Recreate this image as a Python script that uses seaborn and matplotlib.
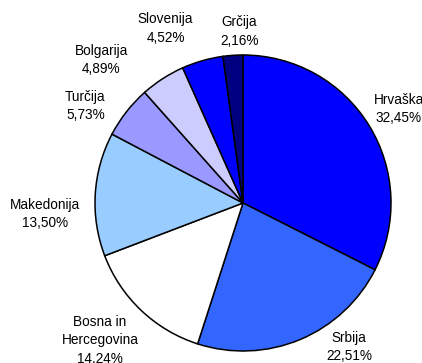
import numpy as np
import matplotlib
matplotlib.use("Agg")
import matplotlib.pyplot as plt
import seaborn as sns

# podatki
drzave = ['Hrvaška', 'Srbija', 'Bosna in\nHercegovina', 'Makedonija',
          'Turčija', 'Bolgarija', 'Slovenija', 'Grčija']
delezi = [32.45, 22.51, 14.24, 13.50, 5.73, 4.89, 4.52, 2.16]
barve = ['#0000FF', '#3366FF', '#FFFFFF', '#99CCFF',
         '#9999FF', '#CCCCFF', '#0000FF', '#000080']

# odmik oznak od središča (razdalja, zasuk kota v stopinjah)
oznake_razdalja = [1.23, 1.21, 1.34, 1.34, 1.25, 1.36, 1.29, 1.16]
oznake_zasuk = [-0.5, 13.7, -2.7, 6.6, 6.4, 11.8, 8.0, -2.7]

sns.set_style("white")
plt.rcParams['font.family'] = ['Liberation Sans', 'DejaVu Sans']

fig = plt.figure(figsize=(4.22, 3.63), dpi=100)
ax = fig.add_axes([0, 0, 1, 1])

wedges, _ = ax.pie(delezi, colors=barve, startangle=90, counterclock=False,
                   radius=1.0, wedgeprops=dict(edgecolor='black', linewidth=1.1))

for w, ime, d, r, dz in zip(wedges, drzave, delezi, oznake_razdalja, oznake_zasuk):
    kot = np.deg2rad((w.theta1 + w.theta2) / 2 + dz)
    besedilo = f"{ime}\n{d:.2f}%".replace('.', ',')
    ax.text(r * np.cos(kot), r * np.sin(kot), besedilo, ha='center', va='center',
            fontsize=9.8, linespacing=1.4, color='black')

# okvir: središče pri (243, 203) px, polmer 148 px
ax.set_xlim(-243 / 148, (422 - 243) / 148)
ax.set_ylim((203 - 363) / 148, 203 / 148)
ax.set_aspect('equal')
ax.axis('off')

fig.savefig('out.png', dpi=100)
